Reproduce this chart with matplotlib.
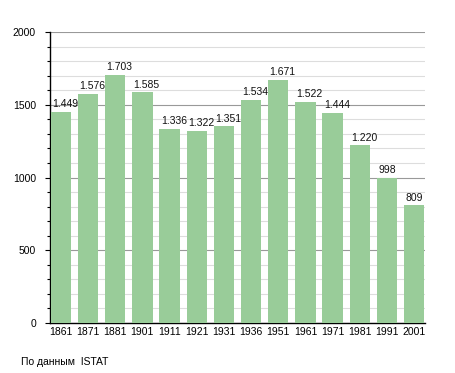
import matplotlib
matplotlib.use("Agg")
import matplotlib.pyplot as plt
from matplotlib.ticker import MultipleLocator

plt.rcParams['font.family'] = ['Liberation Sans', 'DejaVu Sans']

years = ['1861', '1871', '1881', '1901', '1911', '1921', '1931',
         '1936', '1951', '1961', '1971', '1981', '1991', '2001']
population = [1449, 1576, 1703, 1585, 1336, 1322, 1351,
              1534, 1671, 1522, 1444, 1220, 998, 809]

fig = plt.figure(figsize=(4.55, 3.73), dpi=100)
ax = fig.add_axes([50 / 455, 1 - 323 / 373, 375 / 455, 291 / 373])

x = range(len(years))
bar_w = 0.75
ax.bar(x, population, width=bar_w, color='#99cc99', zorder=3)

# value labels, left-aligned on each bar like the original
for xi, v in zip(x, population):
    label = f"{v:,}".replace(',', '.')
    ax.annotate(label, (xi - bar_w / 2, v), xytext=(1, 2), textcoords='offset points',
                ha='left', va='bottom', fontsize=7.5, color='#111111', zorder=4)

ax.set_ylim(0, 2000)
ax.set_xlim(-bar_w / 2 - 0.02, len(years) - 1 + bar_w / 2 + 0.02)
ax.yaxis.set_major_locator(MultipleLocator(500))
ax.yaxis.set_minor_locator(MultipleLocator(100))
ax.grid(axis='y', which='major', color='#999999', linewidth=0.8, zorder=0)
ax.grid(axis='y', which='minor', color='#dddddd', linewidth=0.8, zorder=0)

ax.set_xticks(list(x))
ax.set_xticklabels(years, fontsize=7.5)
ax.tick_params(axis='x', length=0, pad=3)
ax.tick_params(axis='y', which='major', length=3.6, width=0.8, labelsize=7.5, pad=6.5)
ax.tick_params(axis='y', which='minor', length=2.2, width=0.8)

for side in ['top', 'right']:
    ax.spines[side].set_visible(False)
ax.spines['left'].set_linewidth(1.0)
ax.spines['bottom'].set_linewidth(1.0)

fig.text(21 / 455, 1 - 362 / 373, 'По данным  ISTAT', fontsize=7.5, va='center', ha='left')

fig.savefig('out.png', dpi=100)
